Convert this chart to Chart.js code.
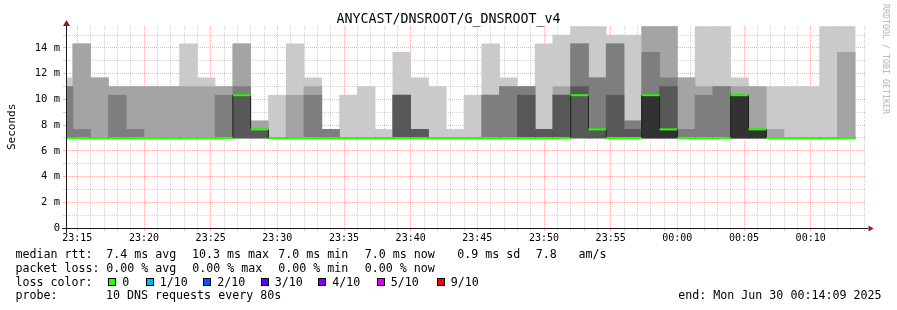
<!DOCTYPE html>
<html>
<head>
<meta charset="utf-8">
<title>ANYCAST/DNSROOT/G_DNSROOT_v4</title>
<script src="https://cdn.jsdelivr.net/npm/chart.js@4.4.1/dist/chart.umd.min.js"></script>
<style>
  body { margin: 0; background: #fff; }
  #wrap { position: relative; width: 897px; height: 310px; overflow: hidden;
          font-family: 'DejaVu Sans Mono', monospace; color: #000; }
  #Chart { position: absolute; left: 0; top: 0; }
  .t { position: absolute; white-space: pre; font-size: 11.65px; line-height: 14px; }
  .box { position: absolute; width: 6px; height: 6px; border: 1px solid #000; }
</style>
</head>
<body>
<div id="wrap">
  <canvas id="Chart" width="897" height="310"></canvas>
  <div class="t" style="left:0;width:897px;text-align:center;top:11px;font-size:13.3px;line-height:16px">ANYCAST/DNSROOT/G_DNSROOT_v4</div>
  <div class="t" style="left:5px;top:150px;font-size:11px;line-height:13px;transform:rotate(-90deg);transform-origin:0 0">Seconds</div>
  <div class="t" style="left:891px;top:4px;font-size:8.3px;line-height:10px;color:#b4b4b4;transform:rotate(90deg);transform-origin:0 0">RRDTOOL / TOBI OETIKER</div>

  <div class="t" style="left:15.5px;top:247.3px">median rtt:</div>
  <div class="t" style="left:106.3px;top:247.3px">7.4 ms avg</div>
  <div class="t" style="left:192px;top:247.3px">10.3 ms max</div>
  <div class="t" style="left:278.3px;top:247.3px">7.0 ms min</div>
  <div class="t" style="left:364.7px;top:247.3px">7.0 ms now</div>
  <div class="t" style="left:457.3px;top:247.3px">0.9 ms sd</div>
  <div class="t" style="left:535.7px;top:247.3px">7.8</div>
  <div class="t" style="left:578.5px;top:247.3px">am/s</div>

  <div class="t" style="left:15.5px;top:261.2px">packet loss:</div>
  <div class="t" style="left:106.3px;top:261.2px">0.00 % avg</div>
  <div class="t" style="left:192.3px;top:261.2px">0.00 % max</div>
  <div class="t" style="left:278.3px;top:261.2px">0.00 % min</div>
  <div class="t" style="left:364.7px;top:261.2px">0.00 % now</div>

  <div class="t" style="left:15.5px;top:274.7px">loss color:</div>
  <div id="lossLegend"></div>

  <div class="t" style="left:15.5px;top:288.3px">probe:</div>
  <div class="t" style="left:106px;top:288.3px">10 DNS requests every 80s</div>
  <div class="t" style="right:15.5px;top:288.3px">end: Mon Jun 30 00:14:09 2025</div>
</div>

<script>
// probe steps of 80 s, in seconds after 23:00:00 (first step is cut by the left edge)
const stepStart = 800;
const stepLen = 80;
const viewStart = 849;   // 23:14:09
const viewEnd = 4449;    // 00:14:09

// 10 sorted DNS round trips per step, in ms
const pings = [
  [7, 7, 7, 7, 7, 7, 7, 11, 11, 11.67],
  [7, 7, 7, 7, 7, 7, 7, 7.67, 14.33, 14.33],
  [7, 7, 7, 7, 7, 7, 7, 7, 11.67, 11.67],
  [7, 7, 7, 7, 7, 7, 7, 10.33, 11, 11],
  [7, 7, 7, 7, 7, 7, 7, 7.67, 11, 11],
  [7, 7, 7, 7, 7, 7, 7, 7, 11, 11],
  [7, 7, 7, 7, 7, 7, 7, 7, 11, 11],
  [7, 7, 7, 7, 7, 7, 7, 7, 11, 14.33],
  [7, 7, 7, 7, 7, 7, 7, 7, 11, 11.67],
  [7, 7, 7, 7, 7, 7, 7, 10.33, 11, 11],
  [7, 7, 7, 7, 10.33, 10.33, 10.33, 11, 14.33, 14.33],
  [7, 7, 7, 7, 7.67, 7.67, 7.67, 7.67, 8.33, 8.33],
  [7, 7, 7, 7, 7, 7, 7, 7, 7, 10.33],
  [7, 7, 7, 7, 7, 7, 7, 7, 10.33, 14.33],
  [7, 7, 7, 7, 7, 7, 7, 10.33, 11, 11.67],
  [7, 7, 7, 7, 7, 7, 7, 7.67, 7.67, 7.67],
  [7, 7, 7, 7, 7, 7, 7, 7, 7, 10.33],
  [7, 7, 7, 7, 7, 7, 7, 7, 7, 11],
  [7, 7, 7, 7, 7, 7, 7, 7, 7, 7.67],
  [7, 7, 7, 7, 7, 7, 10.33, 10.33, 10.33, 13.67],
  [7, 7, 7, 7, 7, 7, 7.67, 7.67, 7.67, 11.67],
  [7, 7, 7, 7, 7, 7, 7, 7, 7, 11],
  [7, 7, 7, 7, 7, 7, 7, 7, 7, 7.67],
  [7, 7, 7, 7, 7, 7, 7, 7, 7, 10.33],
  [7, 7, 7, 7, 7, 7, 7, 10.33, 10.33, 14.33],
  [7, 7, 7, 7, 7, 7, 7, 11, 11, 11.67],
  [7, 7, 7, 7, 7, 7, 10.33, 11, 11, 11],
  [7, 7, 7, 7, 7, 7, 7.67, 7.67, 7.67, 14.33],
  [7, 7, 7, 7, 7, 7, 10.33, 10.33, 11, 15],
  [7, 7, 7, 7, 10.33, 10.33, 11, 14.33, 14.33, 15.67],
  [7, 7, 7, 7, 7.67, 7.67, 7.67, 11.67, 11.67, 15.67],
  [7, 7, 7, 7, 7, 7, 10.33, 14.33, 14.33, 15],
  [7, 7, 7, 7, 7, 7, 7.67, 8.33, 8.33, 15],
  [7, 7, 7, 7, 7, 10.33, 10.33, 13.67, 15.67, 15.67],
  [7, 7, 7, 7, 7, 7.67, 11, 11.67, 15.67, 15.67],
  [7, 7, 7, 7, 7, 7, 7, 7.67, 11.67, 11.67],
  [7, 7, 7, 7, 7, 7, 7, 10.33, 11, 15.67],
  [7, 7, 7, 7, 7, 7, 7, 11, 11, 15.67],
  [7, 7, 7, 7, 7, 10.33, 10.33, 10.33, 11, 11.67],
  [7, 7, 7, 7, 7, 7.67, 7.67, 7.67, 11, 11],
  [7, 7, 7, 7, 7, 7, 7, 7, 7.67, 11],
  [7, 7, 7, 7, 7, 7, 7, 7, 7, 11],
  [7, 7, 7, 7, 7, 7, 7, 7, 7, 11],
  [7, 7, 7, 7, 7, 7, 7, 7, 7, 15.67],
  [7, 7, 7, 7, 7, 7, 7, 7, 13.67, 15.67]
];

const median = [7, 7, 7, 7, 7, 7, 7, 7, 7, 7, 10.33, 7.67, 7, 7, 7, 7, 7, 7, 7, 7,
                7, 7, 7, 7, 7, 7, 7, 7, 7, 10.33, 7.67, 7, 7, 10.33, 7.67, 7, 7, 7, 10.33, 7.67,
                7, 7, 7, 7, 7];
// lost pings out of 10, per step
const loss = [0, 0, 0, 0, 0, 0, 0, 0, 0, 0, 0, 0, 0, 0, 0, 0, 0, 0, 0, 0,
              0, 0, 0, 0, 0, 0, 0, 0, 0, 0, 0, 0, 0, 0, 0, 0, 0, 0, 0, 0,
              0, 0, 0, 0, 0];

const lossLabels = ['0', '1/10', '2/10', '3/10', '4/10', '5/10', '9/10'];
const lossColors = ['#26ff00', '#00b8ff', '#0059ff', '#5e00ff', '#7e00ff', '#dd00ff', '#ff0000'];
const lossLevels = [0, 1, 2, 3, 4, 5, 9];

// outer pair of pings lightest, centre pair darkest
const smokeColors = ['#cacaca', '#a4a4a4', '#7e7e7e', '#585858', '#323232'];

const gridMajor = 'rgba(255, 60, 60, 0.4)';
const gridMinor = 'rgba(110, 110, 110, 0.3)';

// loss legend
const boxX = [108, 145.5, 203, 260.5, 318, 376.5, 436.5];
const lossLegend = document.getElementById('lossLegend');
lossLabels.forEach(function (lab, i) {
    let b = document.createElement('div');
    b.className = 'box';
    b.style.left = boxX[i] + 'px';
    b.style.top = '278px';
    b.style.background = lossColors[i];
    lossLegend.appendChild(b);
    let t = document.createElement('div');
    t.className = 't';
    t.style.left = (boxX[i] + 14.3) + 'px';
    t.style.top = '274.7px';
    t.textContent = lab;
    lossLegend.appendChild(t);
});

function lossColor(n) {
    let c = lossColors[0];
    for (let i = 0; i < lossLevels.length; i++) {
        if (n >= lossLevels[i]) c = lossColors[i];
    }
    return c;
}

function hhmm(sec) {
    let m = (23 * 60 + Math.round(sec / 60)) % (24 * 60);
    let h = Math.floor(m / 60);
    m = m % 60;
    return String(h).padStart(2, '0') + ':' + String(m).padStart(2, '0');
}

let datasets = [];

// the marks live on a hidden x axis with no ticks, so bars get the full 80 s width
smokeColors.forEach(function (col, i) {
    datasets.push({
        type: 'bar',
        xAxisID: 'xb',
        data: pings.map((p, k) => ({ x: stepStart + stepLen * k + stepLen / 2, y: [p[i], p[9 - i]] })),
        backgroundColor: col,
        borderWidth: 0,
        grouped: false,
        barPercentage: 1,
        categoryPercentage: 1,
        order: 10 - i
    });
});

// thin dark step line through the medians
let stepPts = median.map((m, k) => ({ x: stepStart + stepLen * k, y: m }));
stepPts.push({ x: stepStart + stepLen * median.length, y: median[median.length - 1] });
datasets.push({
    type: 'line',
    xAxisID: 'xb',
    data: stepPts,
    borderColor: '#202020',
    borderWidth: 1,
    pointRadius: 0,
    stepped: true,
    order: 2
});

// median bar coloured by loss
let medPts = [];
median.forEach(function (m, k) {
    let a = stepStart + stepLen * k;
    medPts.push({ x: a, y: m }, { x: a + stepLen, y: m }, { x: a + stepLen, y: null });
});
datasets.push({
    type: 'line',
    xAxisID: 'xb',
    data: medPts,
    borderColor: lossColors[0],
    segment: { borderColor: c => lossColor(loss[Math.floor(c.p0DataIndex / 3)]) },
    borderWidth: 2,
    pointRadius: 0,
    spanGaps: false,
    order: 1
});

const rrdAxes = {
    id: 'rrdAxes',
    afterDraw(chart) {
        const ctx = chart.ctx;
        const a = chart.chartArea;
        ctx.save();
        ctx.strokeStyle = '#1a1a1a';
        ctx.lineWidth = 1;
        ctx.beginPath();
        ctx.moveTo(a.left - 4, a.bottom + 0.5);
        ctx.lineTo(a.right + 2, a.bottom + 0.5);
        ctx.moveTo(a.left + 0.5, a.bottom + 5);
        ctx.lineTo(a.left + 0.5, a.top - 3);
        ctx.stroke();
        ctx.fillStyle = '#8e1c1c';
        ctx.beginPath();
        ctx.moveTo(a.right + 7.5, a.bottom + 0.5);
        ctx.lineTo(a.right + 2.5, a.bottom - 2.5);
        ctx.lineTo(a.right + 2.5, a.bottom + 3.5);
        ctx.closePath();
        ctx.fill();
        ctx.beginPath();
        ctx.moveTo(a.left + 0.5, a.top - 6);
        ctx.lineTo(a.left - 3, a.top);
        ctx.lineTo(a.left + 4, a.top);
        ctx.closePath();
        ctx.fill();
        ctx.restore();
    }
};

function main() {
    Chart.defaults.font.family = "'DejaVu Sans Mono', monospace";
    const ctx = document.getElementById('Chart');
    new Chart(ctx, {
        type: 'bar',
        data: { datasets: datasets },
        plugins: [rrdAxes],
        options: {
            responsive: false,
            animation: false,
            events: [],
            layout: { padding: { left: 0, right: 31, top: 26, bottom: 0 } },
            plugins: { legend: { display: false }, tooltip: { enabled: false } },
            scales: {
                xb: {
                    type: 'linear',
                    position: 'bottom',
                    display: false,
                    min: viewStart,
                    max: viewEnd,
                    offset: false,
                    afterBuildTicks: s => { s.ticks = []; }
                },
                x: {
                    type: 'linear',
                    position: 'bottom',
                    min: viewStart,
                    max: viewEnd,
                    offset: false,
                    z: 1,
                    afterFit: s => { s.height = 82; },
                    afterBuildTicks: s => {
                        let t = [];
                        for (let v = 900; v < viewEnd; v += 60) t.push({ value: v });
                        s.ticks = t;
                    },
                    ticks: {
                        autoSkip: false,
                        maxRotation: 0,
                        color: '#000',
                        padding: 1,
                        font: { size: 10 },
                        callback: v => (v % 300 === 0 ? hhmm(v) : '')
                    },
                    grid: {
                        offset: false,
                        tickLength: 3,
                        color: c => (c.tick && c.tick.value % 300 === 0 ? gridMajor : gridMinor)
                    },
                    border: { display: false, dash: [1, 1] }
                },
                y: {
                    type: 'linear',
                    min: 0,
                    max: 15.71,
                    z: 1,
                    afterFit: s => { s.width = 66; },
                    afterBuildTicks: s => {
                        let t = [];
                        for (let i = 0; i <= 15; i++) t.push({ value: i });
                        s.ticks = t;
                    },
                    ticks: {
                        autoSkip: false,
                        color: '#000',
                        padding: 3,
                        font: { size: 10.5 },
                        callback: v => (v % 2 === 0 ? (v === 0 ? '0' : v + ' m') : '')
                    },
                    grid: {
                        tickLength: 3,
                        color: c => (c.tick && c.tick.value % 2 === 0 ? gridMajor : gridMinor)
                    },
                    border: { display: false, dash: [1, 1] }
                }
            }
        }
    });
}

main();
</script>
</body>
</html>
